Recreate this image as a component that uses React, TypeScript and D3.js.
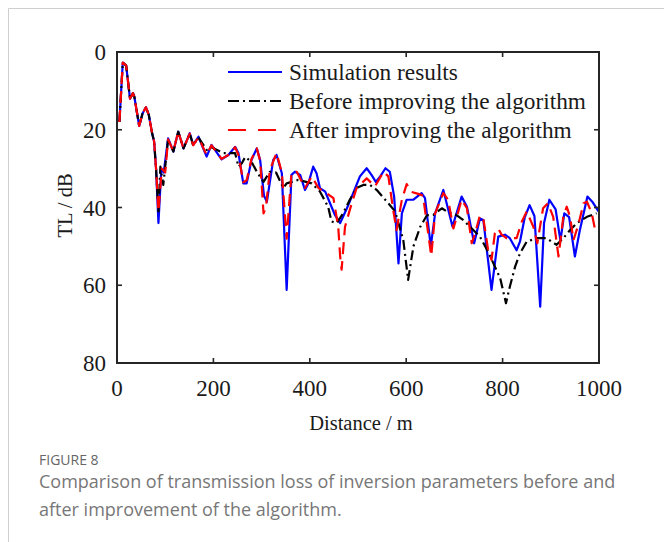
import React, { useMemo } from "react";
import * as d3 from "d3";

const xTicks = [0, 200, 400, 600, 800, 1000];
const yTicks = [0, 20, 40, 60, 80];

const seriesNames = ["Simulation results", "Before improving the algorithm", "After improving the algorithm"];
const seriesColors = ["#0000ff", "#000000", "#ff0000"];

const simDist = [5, 12, 19, 27, 33, 36, 46, 53, 60, 66, 73, 77, 81, 86, 92, 97, 106, 117, 127, 138, 151, 158, 169, 186, 196, 217, 231, 245, 252, 262, 269, 279, 290, 297, 305, 311, 324, 331, 342, 352, 362, 369, 380, 390, 397, 407, 414, 421, 432, 442, 452, 463, 477, 490, 504, 518, 528, 537, 546, 557, 566, 575, 584, 591, 601, 615, 632, 639, 651, 660, 677, 696, 715, 726, 741, 753, 760, 777, 791, 805, 815, 829, 836, 846, 856, 866, 878, 886, 897, 910, 920, 928, 938, 950, 960, 976, 986, 999];
const simTL = [18, 2.7, 3.5, 12, 10.6, 11.5, 19, 15.8, 14.2, 16.2, 21, 23, 30, 44, 30, 31, 22.2, 25.6, 20.5, 24.8, 20.9, 23.9, 21.8, 26.9, 23.9, 27.6, 26.5, 24.4, 26, 33.8, 33.8, 27.8, 24.8, 27.8, 37, 38.5, 27.8, 26.5, 31.2, 61.2, 31.6, 30.8, 31.6, 35.5, 33.8, 29.5, 31.2, 35, 35.9, 38.9, 41.9, 44, 40.2, 36.3, 32, 29.9, 31.6, 33.4, 32, 29.9, 30.8, 37.2, 54.4, 41.5, 38, 38, 36.3, 37.6, 50, 41.5, 35.5, 44.9, 37.2, 39.8, 49.2, 42.8, 43.2, 61.2, 47.5, 47, 47.9, 51, 48.8, 42.5, 39.4, 42.2, 65.5, 44, 38, 40.5, 48.5, 41.5, 42.5, 52.6, 46, 37.2, 38.5, 41];

const beforeDist = [5, 12, 19, 27, 33, 36, 46, 53, 60, 66, 73, 77, 81, 86, 90, 96, 106, 117, 127, 138, 151, 158, 169, 186, 196, 221, 235, 245, 252, 259, 266, 279, 290, 304, 317, 330, 345, 352, 376, 404, 421, 438, 445, 456, 469, 483, 497, 511, 525, 539, 560, 577, 594, 604, 615, 629, 643, 656, 674, 684, 705, 718, 736, 753, 770, 784, 795, 807, 815, 826, 836, 850, 871, 891, 912, 926, 940, 954, 975, 995];
const beforeTL = [18, 2.7, 3.5, 12, 10.6, 11.5, 19, 15.8, 14.2, 16.2, 21, 23, 30, 41, 29.5, 34.2, 22.5, 25.6, 20.5, 24.8, 21, 24, 22, 25.2, 24.5, 26, 26, 26, 29.5, 28.6, 27, 28.2, 30.8, 33.4, 30.8, 31, 35, 33.8, 32.9, 33.8, 35.9, 39.8, 43.6, 44, 41.5, 38, 35, 34.2, 34.2, 35.5, 38.5, 41, 48.4, 58.6, 50, 45, 42, 41.9, 40.2, 41, 42, 43.2, 45.4, 47.5, 51.4, 55.2, 58.2, 64.6, 60.4, 55.2, 51.8, 48.8, 47.9, 47.9, 49.6, 47.9, 45.8, 44, 42.4, 41.5];

const afterDist = [5, 12, 19, 27, 33, 36, 46, 53, 60, 66, 73, 77, 81, 86, 93, 100, 106, 117, 127, 138, 151, 158, 169, 186, 196, 217, 231, 245, 252, 262, 269, 279, 290, 297, 304, 309, 317, 331, 342, 352, 362, 373, 390, 404, 418, 435, 449, 459, 463, 466, 473, 483, 497, 518, 535, 553, 563, 573, 580, 591, 601, 611, 625, 635, 652, 660, 677, 687, 698, 715, 726, 736, 743, 753, 760, 770, 777, 784, 791, 798, 808, 829, 840, 850, 864, 872, 884, 894, 905, 916, 926, 933, 940, 947, 957, 968, 975, 985, 992, 999];
const afterTL = [18, 2.7, 3.5, 12, 10.6, 11.5, 19, 15.8, 14.2, 16.2, 21, 23, 30, 41, 30, 31, 22.5, 25.5, 20.5, 24.8, 21, 24, 22, 26.5, 24, 27.5, 26.5, 24.5, 26.5, 33.5, 33, 27.5, 24.8, 28, 41.5, 40, 30.4, 26, 31, 48, 31, 30.8, 35, 32, 35, 36.3, 37.6, 45, 52.6, 56, 45, 40.6, 35, 32.5, 34.6, 30.8, 32, 40.6, 45.8, 38, 34, 36, 36.5, 37, 52.5, 41.5, 36.3, 38, 45.4, 38, 40.2, 49.2, 46.6, 42, 42.8, 50.9, 53.5, 46.6, 45.4, 47, 47.9, 47.9, 43.6, 41, 45, 49.2, 40.2, 38.9, 42.4, 52.6, 42.4, 39.8, 42.4, 48.4, 44.5, 38.9, 38.5, 41.5, 45.8, 45];

const captionLabel = "FIGURE 8";
const captionLines = [
  "Comparison of transmission loss of inversion parameters before and",
  "after improvement of the algorithm.",
];

const W = 664;
const H = 542;
const M = { left: 117, right: 599, top: 52, bottom: 363 };
const SERIF = "'Liberation Serif', 'Times New Roman', serif";
const SANS = "'Open Sans', 'Noto Sans', sans-serif";

export default function App() {
  const x = useMemo(() => d3.scaleLinear().domain([0, 1000]).range([M.left, M.right]), []);
  const y = useMemo(() => d3.scaleLinear().domain([0, 80]).range([M.top, M.bottom]), []);
  const line = d3
    .line<[number, number]>()
    .x((d) => x(d[0]))
    .y((d) => y(d[1]));

  const series = [
    { pts: simDist.map((d, i) => [d, simTL[i]] as [number, number]), dash: undefined, w: 2.2 },
    { pts: beforeDist.map((d, i) => [d, beforeTL[i]] as [number, number]), dash: "10,4,2,4", w: 2.2 },
    { pts: afterDist.map((d, i) => [d, afterTL[i]] as [number, number]), dash: "12,7", w: 2.2 },
  ];
  const legendDash = [undefined, "11,4,2,4", "18,12"];
  const axisColor = "#262626";
  const tickLen = 5;

  return (
    <svg
      width={W}
      height={H}
      style={{ position: "absolute", left: 0, top: 0, background: "#fff" }}
    >
      {/* card border */}
      <line x1={8.5} y1={8.5} x2={W} y2={8.5} stroke="#cfcfcf" strokeWidth={1} />
      <line x1={8.5} y1={8.5} x2={8.5} y2={H} stroke="#cfcfcf" strokeWidth={1} />

      <defs>
        <clipPath id="plotclip">
          <rect x={M.left} y={M.top} width={M.right - M.left} height={M.bottom - M.top} />
        </clipPath>
      </defs>

      <g clipPath="url(#plotclip)">
        {series.map((s, i) => (
          <path
            key={i}
            d={line(s.pts) || ""}
            fill="none"
            stroke={seriesColors[i]}
            strokeWidth={s.w}
            strokeDasharray={s.dash}
            strokeLinejoin="round"
          />
        ))}
      </g>

      {/* frame */}
      <rect
        x={M.left}
        y={M.top}
        width={M.right - M.left}
        height={M.bottom - M.top}
        fill="none"
        stroke={axisColor}
        strokeWidth={2}
      />
      {xTicks.map((t) => (
        <g key={"x" + t}>
          <line x1={x(t)} x2={x(t)} y1={M.bottom} y2={M.bottom - tickLen} stroke={axisColor} strokeWidth={1.6} />
          <line x1={x(t)} x2={x(t)} y1={M.top} y2={M.top + tickLen} stroke={axisColor} strokeWidth={1.6} />
          <text x={x(t)} y={396} textAnchor="middle" fontFamily={SERIF} fontSize={23} fill="#1a1a1a">
            {t}
          </text>
        </g>
      ))}
      {yTicks.map((t) => (
        <g key={"y" + t}>
          <line x1={M.left} x2={M.left + tickLen} y1={y(t)} y2={y(t)} stroke={axisColor} strokeWidth={1.6} />
          <line x1={M.right} x2={M.right - tickLen} y1={y(t)} y2={y(t)} stroke={axisColor} strokeWidth={1.6} />
          <text x={106} y={y(t) + 8} textAnchor="end" fontFamily={SERIF} fontSize={23} fill="#1a1a1a">
            {t}
          </text>
        </g>
      ))}

      <text x={(M.left + M.right) / 2 + 3} y={430} textAnchor="middle" fontFamily={SERIF} fontSize={20.5} fill="#1a1a1a">
        Distance / m
      </text>
      <text
        transform={`translate(72, ${(M.top + M.bottom) / 2 - 2}) rotate(-90)`}
        textAnchor="middle"
        fontFamily={SERIF}
        fontSize={20.5}
        fill="#1a1a1a"
      >
        TL / dB
      </text>

      {/* legend */}
      {seriesNames.map((n, i) => {
        const ly = 72 + i * 29;
        return (
          <g key={n}>
            <line
              x1={228}
              x2={282}
              y1={ly}
              y2={ly}
              stroke={seriesColors[i]}
              strokeWidth={2.2}
              strokeDasharray={legendDash[i]}
            />
            <text x={289} y={ly + 8} fontFamily={SERIF} fontSize={23.3} fill="#1a1a1a">
              {n}
            </text>
          </g>
        );
      })}

      {/* caption */}
      <text x={39} y={465} fontFamily={SANS} fontSize={14} fill="#666" fontWeight={500}>
        {captionLabel}
      </text>
      {captionLines.map((l, i) => (
        <text key={i} x={39} y={488 + i * 28} fontFamily={SANS} fontSize={18} fill="#777">
          {l}
        </text>
      ))}
    </svg>
  );
}
